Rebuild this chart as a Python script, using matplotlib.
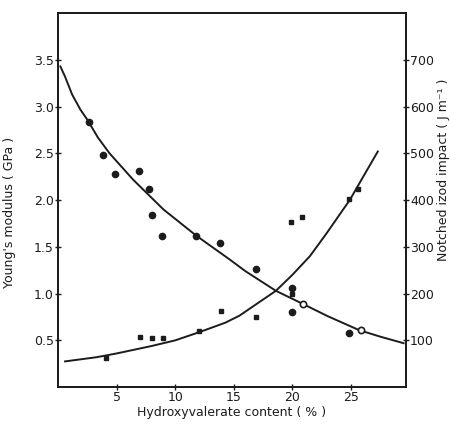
import numpy as np
import matplotlib.pyplot as plt

# Young's modulus (GPa) - measured points
mod_x = [2.6, 3.8, 4.9, 6.9, 7.8, 8.0, 8.9, 11.8, 13.8, 16.9, 20.0, 20.0, 24.8]
mod_y = [2.84, 2.48, 2.28, 2.31, 2.12, 1.84, 1.62, 1.62, 1.54, 1.26, 1.06, 0.80, 0.58]
mod_open_x = [20.9, 25.9]
mod_open_y = [0.89, 0.61]
# modulus fit curve
mod_cx = [0.2, 0.6, 1.2, 1.9, 2.5, 3.4, 4.4, 6.4, 9.0, 11.8, 14.6, 16.0, 18.6, 20.9, 23.0, 25.7, 27.5, 29.5]
mod_cy = [3.43, 3.32, 3.13, 2.97, 2.86, 2.67, 2.50, 2.22, 1.90, 1.62, 1.37, 1.24, 1.03, 0.89, 0.76, 0.61, 0.54, 0.47]

# notched izod impact (J/m)
imp_x = [4.1, 7.0, 8.0, 9.0, 12.0, 13.9, 16.9, 20.0, 19.85, 20.8, 24.8, 25.6]
imp_y = [62, 108, 104, 106, 119, 162, 151, 200, 353, 364, 402, 424]
imp_cx = [0.6, 3.3, 5.0, 8.0, 10.0, 12.0, 14.3, 15.5, 16.9, 18.6, 20.0, 21.5, 22.9, 24.9, 27.3]
imp_cy = [55, 64, 72, 88, 100, 117, 138, 153, 177, 206, 240, 280, 328, 400, 504]

ink = '#1c1c1c'

fig = plt.figure(figsize=(4.5, 4.24), dpi=100)
ax = fig.add_axes([0.129, 0.087, 0.773, 0.882])
ax2 = ax.twinx()

ax.plot(mod_cx, mod_cy, color=ink, lw=1.4)
ax.plot(mod_x, mod_y, 'o', color=ink, ms=4.5)
ax.plot(mod_open_x, mod_open_y, 'o', mfc='white', mec=ink, mew=1.2, ms=4.5)

ax2.plot(imp_cx, imp_cy, color=ink, lw=1.4)
ax2.plot(imp_x, imp_y, 's', color=ink, ms=2.8)

ax.set_xlim(0, 29.7)
ax.set_ylim(0, 4.0)
ax2.set_ylim(0, 800)
ax.set_xticks([5, 10, 15, 20, 25])
ax.set_yticks([0.5, 1.0, 1.5, 2.0, 2.5, 3.0, 3.5])
ax.set_yticklabels(['0.5', '1.0', '1.5', '2.0', '2.5', '3.0', '3.5'])
ax2.set_yticks([100, 200, 300, 400, 500, 600, 700])

for a in (ax, ax2):
    for s in a.spines.values():
        s.set_color(ink)
        s.set_linewidth(1.3)
    a.tick_params(direction='inout', length=4, width=1, colors=ink,
                  labelsize=9, pad=1)

ax.set_xlabel('Hydroxyvalerate content ( % )', fontsize=9, color=ink)
ax.set_ylabel("Young's modulus ( GPa )", fontsize=9, color=ink)
ax2.set_ylabel('Notched izod impact ( J m⁻¹ )', fontsize=9, color=ink,
               rotation=90)
ax.yaxis.set_label_coords(-0.122, 0.468)
ax2.yaxis.set_label_coords(1.088, 0.58)
ax.xaxis.set_label_coords(0.5, -0.05)

fig.savefig('out.png', dpi=100)
